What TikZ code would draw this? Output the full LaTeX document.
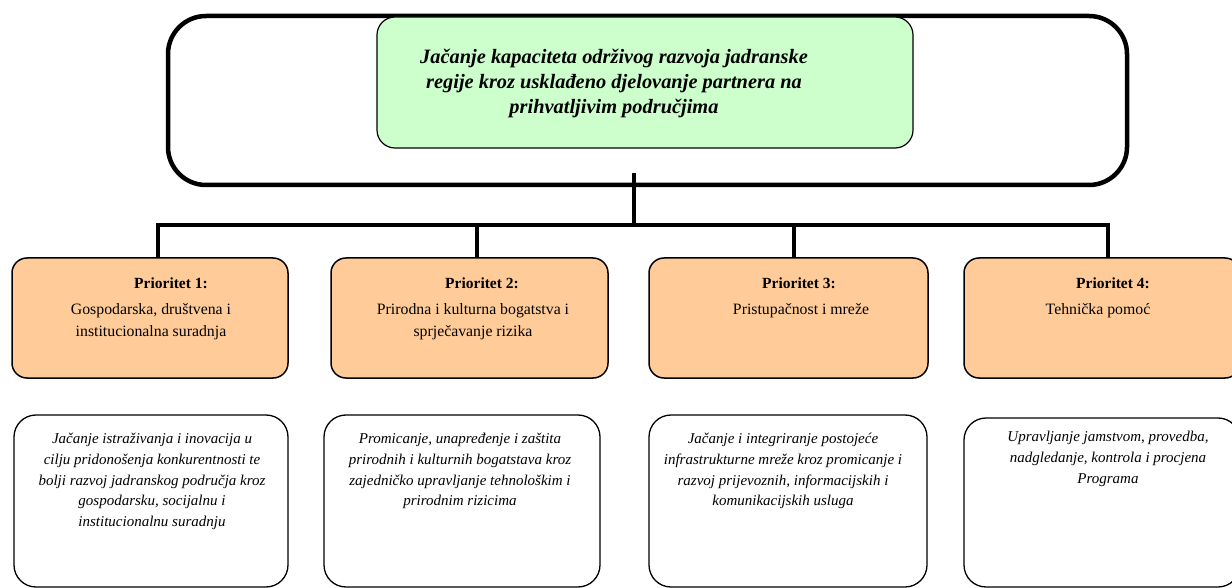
\documentclass[tikz,border=0pt]{standalone}
\usepackage{fontspec}
\setmainfont{Liberation Serif}
\definecolor{goalgreen}{HTML}{CCFFCC}
\definecolor{prioorange}{HTML}{FFCC99}
\tikzset{
  outerbox/.style={draw, line width=4.5pt, rounded corners=38pt, inner sep=0pt, outer sep=0pt},
  goalbox/.style={draw, fill=goalgreen, line width=1.2pt, rounded corners=18pt, inner sep=0pt, outer sep=0pt},
  priobox/.style={draw, fill=prioorange, line width=1.5pt, rounded corners=15pt, inner sep=0pt, outer sep=0pt, minimum height=120pt},
  measbox/.style={draw, fill=white, line width=1.3pt, rounded corners=22pt, inner sep=0pt, outer sep=0pt},
  goaltext/.style={anchor=north, inner sep=0pt, align=center, font=\fontsize{20.4}{25}\selectfont\bfseries\itshape},
  priohead/.style={anchor=north, inner sep=0pt, align=center, font=\fontsize{15.5}{22}\selectfont\bfseries},
  priotext/.style={anchor=north, inner sep=0pt, align=center, font=\fontsize{15.8}{22}\selectfont},
  meastext/.style={anchor=north, inner sep=0pt, align=center, font=\fontsize{15}{20.7}\selectfont\itshape},
  conn/.style={line width=4pt, line cap=rect},
  stem/.style={line width=3.5pt}
}
\begin{document}
\begin{tikzpicture}[x=1pt, y=-1pt]
\useasboundingbox (0,0) rectangle (1232,588);
\clip (0,0) rectangle (1232,588);

% goal
\node[outerbox, minimum width=959pt, minimum height=169pt] (outer) at (647.5,100.5) {};
\node[goalbox, minimum width=536pt, minimum height=131pt] (goal) at (645,82.5) {};
\node[goaltext] (goalt) at (614,49) {Jačanje kapaciteta održivog razvoja jadranske\\regije kroz usklađeno djelovanje partnera na\\prihvatljivim područjima};

% priorities
\node[priobox, minimum width=276pt] (p1) at (150,318) {};
\node[priobox, minimum width=277pt] (p2) at (469.5,318) {};
\node[priobox, minimum width=279pt] (p3) at (788.5,318) {};
\node[priobox, minimum width=276pt] (p4) at (1102,318) {};

\node[priohead] (p1h) at (171,277.5) {Prioritet 1:};
\node[priohead] (p2h) at (482,277.5) {Prioritet 2:};
\node[priohead] (p3h) at (799,277.5) {Prioritet 3:};
\node[priohead] (p4h) at (1113,277.5) {Prioritet 4:};

\node[priotext] (p1t) at (151,303) {Gospodarska, društvena i\\institucionalna suradnja};
\node[priotext] (p2t) at (473,303) {Prirodna i kulturna bogatstva i\\sprječavanje rizika};
\node[priotext] (p3t) at (801,303) {Pristupačnost i mreže};
\node[priotext] (p4t) at (1098,303) {Tehnička pomoć};

% measures
\node[measbox, minimum width=274pt, minimum height=172pt] (m1) at (151,501) {};
\node[measbox, minimum width=276pt, minimum height=172pt] (m2) at (462,501) {};
\node[measbox, minimum width=278pt, minimum height=172pt] (m3) at (788,501) {};
\node[measbox, minimum width=276pt, minimum height=169pt] (m4) at (1102,502.5) {};

\node[meastext] (m1t) at (152,433) {Jačanje istraživanja i inovacija u\\cilju pridonošenja konkurentnosti te\\bolji razvoj jadranskog područja kroz\\gospodarsku, socijalnu i\\institucionalnu suradnju};
\node[meastext] (m2t) at (460,433) {Promicanje, unapređenje i zaštita\\prirodnih i kulturnih bogatstava kroz\\zajedničko upravljanje tehnološkim i\\prirodnim rizicima};
\node[meastext] (m3t) at (783,433) {Jačanje i integriranje postojeće\\infrastrukturne mreže kroz promicanje i\\razvoj prijevoznih, informacijskih i\\komunikacijskih usluga};
\node[meastext] (m4t) at (1108,431) {Upravljanje jamstvom, provedba,\\nadgledanje, kontrola i procjena\\Programa};

% connectors
\coordinate (stemtop) at (634,173);
\coordinate (hub) at (634,225);
\coordinate (j1) at (158,225);
\coordinate (j2) at (477,225);
\coordinate (j3) at (794,225);
\coordinate (j4) at (1108,225);
\draw[stem] (stemtop) -- (hub);
\draw[conn] (j1) -- (j4);
\draw[stem] (j1) -- (j1 |- p1.north);
\draw[stem] (j2) -- (j2 |- p2.north);
\draw[stem] (j3) -- (j3 |- p3.north);
\draw[stem] (j4) -- (j4 |- p4.north);
\end{tikzpicture}
\end{document}
